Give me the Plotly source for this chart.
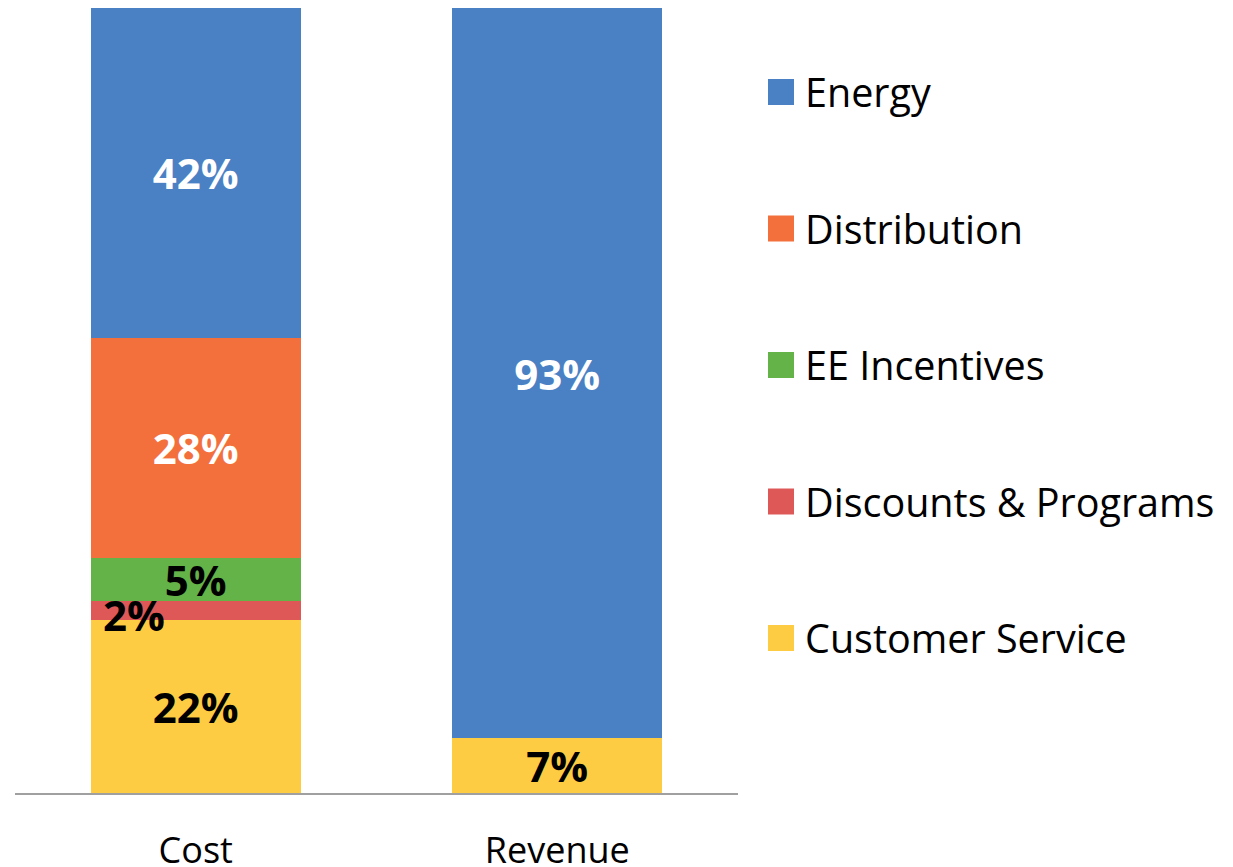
import plotly.graph_objects as go

categories = ["Cost", "Revenue"]
series_names = ["Customer Service", "Discounts & Programs", "EE Incentives", "Distribution", "Energy"]
customer_service = [22, 7]
discounts_programs = [2.4, None]
ee_incentives = [5.6, None]
distribution = [28, None]
energy = [42, 93]
label_customer_service = ["22%", "7%"]
label_discounts_programs = ["2%", ""]
label_ee_incentives = ["5%", ""]
label_distribution = ["28%", ""]
label_energy = ["42%", "93%"]

colors = ["#FECC42", "#DE5858", "#64B348", "#F3703C", "#4A81C4"]
text_colors = ["black", "black", "black", "white", "white"]
series_values = [customer_service, discounts_programs, ee_incentives, distribution, energy]
series_labels = [label_customer_service, label_discounts_programs, label_ee_incentives,
                 label_distribution, label_energy]

FONT = "Open Sans, Noto Sans, sans-serif"
W, H = 1233, 867
OFF = 8  # page body margin offset
fig = go.Figure()
for i, (name, vals, labs) in enumerate(zip(series_names, series_values, series_labels)):
    shown = labs if name != "Discounts & Programs" else ["" for _ in labs]
    fig.add_trace(go.Bar(
        x=categories, y=vals, name=name, marker=dict(color=colors[i], line=dict(width=0)),
        text=shown, textposition="inside", insidetextanchor="middle", textangle=0,
        constraintext="none",
        textfont=dict(family=FONT, size=42, color=text_colors[i], weight="bold"),
        showlegend=False, hoverinfo="skip",
    ))

# "2%" label placed to the left, as in the reference
base = customer_service[0]
fig.add_annotation(x=categories[0], y=base + discounts_programs[0] / 2, text=label_discounts_programs[0],
                   showarrow=False, xshift=-62, yshift=-4,
                   font=dict(family=FONT, size=42, color="black", weight="bold"))

# target screen coordinates of plot area
plot_top, plot_bottom, plot_left, plot_right = 8, 793, 15, 738
ph = plot_bottom - plot_top
pw = plot_right - plot_left
legend_order = list(reversed(range(len(series_names))))
for k, i in enumerate(legend_order):
    cy = 92 + k * 136.5
    y0 = (plot_bottom - (cy + 13)) / ph
    y1 = (plot_bottom - (cy - 13)) / ph
    fig.add_shape(type="rect", xref="paper", yref="paper",
                  x0=(768 - plot_left) / pw, x1=(794 - plot_left) / pw, y0=y0, y1=y1,
                  fillcolor=colors[i], line=dict(width=0))
    fig.add_annotation(xref="paper", yref="paper", x=(803 - plot_left) / pw,
                       y=(plot_bottom - cy) / ph, text=series_names[i], showarrow=False,
                       xanchor="left", yanchor="middle",
                       font=dict(family=FONT, size=39.5, color="black"))

fig.update_layout(
    barmode="stack", bargap=0.42,
    width=W, height=H,
    margin=dict(l=plot_left - OFF, r=W - (plot_right - OFF), t=plot_top - OFF,
                b=H - (plot_bottom - OFF), autoexpand=False),
    plot_bgcolor="white", paper_bgcolor="white",
    xaxis=dict(showline=True, linecolor="#A0A0A0", linewidth=2, showgrid=False,
               ticks="", ticklabelstandoff=25, automargin=False,
               tickfont=dict(family=FONT, size=36, color="black")),
    yaxis=dict(range=[0, 100], visible=False, automargin=False),
)
fig.write_html("out.html")
